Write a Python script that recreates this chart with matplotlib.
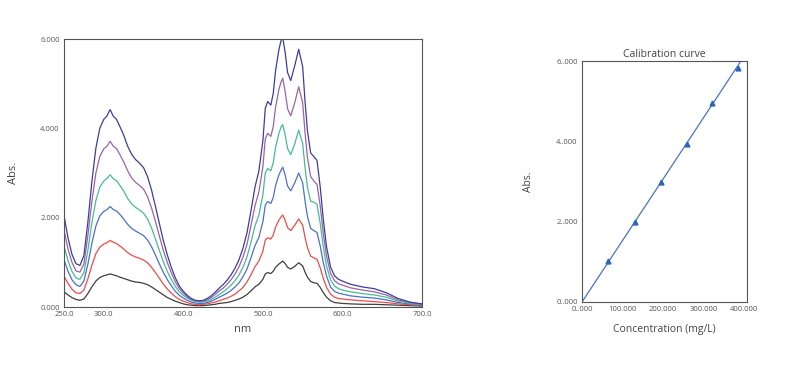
import matplotlib
matplotlib.use("Agg")
import matplotlib.pyplot as plt

plt.rcParams['font.family'] = ['Open Sans', 'DejaVu Sans']

# ---------------- data ----------------
wavelength = [250, 255, 260, 265, 270, 275, 280, 285, 290, 295, 300, 304, 308, 312, 316, 320,
              325, 330, 335, 340, 345, 350, 355, 360, 365, 370, 375, 380, 385, 390, 395, 400,
              405, 410, 415, 420, 425, 430, 435, 440, 445, 450, 455, 460, 465, 470, 475, 480,
              485, 490, 495, 500, 503, 506, 510, 513, 516, 520, 523, 525, 528, 531, 535, 540,
              545, 550, 553, 556, 560, 565, 568, 572, 576, 580, 585, 590, 595, 600, 610, 625,
              640, 655, 670, 685, 700]

abs_black = [0.34, 0.27, 0.21, 0.17, 0.15, 0.18, 0.30, 0.45, 0.58, 0.66, 0.70, 0.72, 0.74, 0.72, 0.70, 0.67,
             0.64, 0.61, 0.58, 0.56, 0.55, 0.53, 0.50, 0.45, 0.39, 0.33, 0.27, 0.21, 0.17, 0.13, 0.10, 0.07,
             0.05, 0.04, 0.03, 0.03, 0.03, 0.04, 0.05, 0.06, 0.08, 0.09, 0.10, 0.12, 0.15, 0.18, 0.22, 0.28,
             0.36, 0.45, 0.51, 0.62, 0.74, 0.77, 0.75, 0.80, 0.89, 0.96, 1.00, 1.03, 0.97, 0.89, 0.85, 0.91,
             0.99, 0.92, 0.78, 0.67, 0.57, 0.54, 0.53, 0.44, 0.32, 0.22, 0.14, 0.10, 0.09, 0.08, 0.07, 0.06,
             0.06, 0.05, 0.04, 0.03, 0.02]
abs_red = [0.69, 0.53, 0.40, 0.32, 0.30, 0.38, 0.63, 0.93, 1.19, 1.34, 1.41, 1.44, 1.49, 1.45, 1.42, 1.37,
           1.30, 1.22, 1.16, 1.12, 1.09, 1.05, 0.99, 0.89, 0.77, 0.64, 0.51, 0.40, 0.31, 0.23, 0.17, 0.13,
           0.10, 0.07, 0.06, 0.05, 0.06, 0.07, 0.09, 0.11, 0.14, 0.17, 0.20, 0.24, 0.29, 0.36, 0.44, 0.56,
           0.72, 0.90, 1.03, 1.25, 1.50, 1.55, 1.52, 1.61, 1.79, 1.94, 2.02, 2.06, 1.94, 1.78, 1.71, 1.83,
           1.97, 1.83, 1.56, 1.33, 1.14, 1.09, 1.07, 0.88, 0.64, 0.44, 0.29, 0.22, 0.19, 0.18, 0.16, 0.14,
           0.12, 0.10, 0.07, 0.05, 0.03]
abs_blue = [1.06, 0.80, 0.61, 0.50, 0.46, 0.58, 0.96, 1.42, 1.81, 2.04, 2.14, 2.18, 2.25, 2.18, 2.15, 2.08,
            1.97, 1.85, 1.76, 1.70, 1.65, 1.60, 1.50, 1.35, 1.16, 0.96, 0.77, 0.61, 0.47, 0.35, 0.26, 0.20,
            0.15, 0.11, 0.09, 0.08, 0.08, 0.10, 0.13, 0.17, 0.22, 0.26, 0.31, 0.37, 0.45, 0.54, 0.68, 0.85,
            1.10, 1.37, 1.56, 1.91, 2.28, 2.36, 2.32, 2.45, 2.72, 2.95, 3.07, 3.13, 2.95, 2.71, 2.60, 2.78,
            3.00, 2.78, 2.37, 2.03, 1.76, 1.70, 1.67, 1.37, 0.99, 0.69, 0.45, 0.35, 0.31, 0.29, 0.25, 0.22,
            0.20, 0.16, 0.10, 0.07, 0.04]
abs_green = [1.36, 1.04, 0.80, 0.65, 0.62, 0.77, 1.27, 1.88, 2.38, 2.68, 2.82, 2.88, 2.96, 2.87, 2.83, 2.73,
             2.60, 2.43, 2.31, 2.23, 2.17, 2.10, 1.97, 1.77, 1.52, 1.26, 1.01, 0.79, 0.61, 0.46, 0.34, 0.26,
             0.20, 0.15, 0.12, 0.11, 0.11, 0.13, 0.17, 0.22, 0.28, 0.34, 0.41, 0.49, 0.59, 0.72, 0.89, 1.12,
             1.45, 1.81, 2.06, 2.51, 3.00, 3.10, 3.05, 3.23, 3.58, 3.88, 4.04, 4.08, 3.85, 3.55, 3.41, 3.65,
             3.96, 3.66, 3.12, 2.68, 2.37, 2.34, 2.30, 1.88, 1.35, 0.92, 0.61, 0.47, 0.41, 0.38, 0.34, 0.30,
             0.27, 0.22, 0.13, 0.08, 0.05]
abs_purple = [1.72, 1.30, 1.00, 0.81, 0.78, 0.96, 1.60, 2.36, 2.99, 3.37, 3.54, 3.60, 3.71, 3.60, 3.55, 3.42,
              3.25, 3.05, 2.89, 2.79, 2.72, 2.64, 2.47, 2.22, 1.91, 1.58, 1.26, 0.99, 0.76, 0.56, 0.41, 0.31,
              0.23, 0.17, 0.14, 0.13, 0.13, 0.16, 0.21, 0.28, 0.36, 0.42, 0.51, 0.61, 0.74, 0.90, 1.12, 1.40,
              1.82, 2.26, 2.58, 3.14, 3.76, 3.89, 3.82, 4.04, 4.48, 4.86, 5.05, 5.12, 4.82, 4.44, 4.28, 4.57,
              4.93, 4.57, 3.90, 3.35, 2.92, 2.80, 2.75, 2.27, 1.64, 1.14, 0.76, 0.59, 0.52, 0.49, 0.43, 0.38,
              0.34, 0.27, 0.16, 0.10, 0.06]
abs_indigo = [2.05, 1.55, 1.18, 0.97, 0.93, 1.15, 1.90, 2.80, 3.55, 4.00, 4.20, 4.28, 4.42, 4.27, 4.20, 4.05,
              3.85, 3.60, 3.42, 3.30, 3.22, 3.12, 2.92, 2.62, 2.25, 1.86, 1.48, 1.16, 0.88, 0.65, 0.47, 0.35,
              0.26, 0.19, 0.15, 0.14, 0.15, 0.19, 0.25, 0.33, 0.42, 0.50, 0.60, 0.72, 0.87, 1.06, 1.32, 1.66,
              2.15, 2.68, 3.05, 3.72, 4.45, 4.60, 4.52, 4.78, 5.30, 5.75, 5.98, 6.02, 5.70, 5.25, 5.07, 5.40,
              5.77, 5.38, 4.60, 3.95, 3.45, 3.35, 3.28, 2.70, 1.95, 1.35, 0.90, 0.70, 0.62, 0.58, 0.51, 0.45,
              0.41, 0.32, 0.19, 0.11, 0.07]

series_colors = ['#3f3f3f', '#ef4a4a', '#4a70cc', '#45bd92', '#9c62aa', '#3d3d9e']

spec_xticks = [250, 300, 400, 500, 600, 700]
spec_xticklabels = ['250.0', '300.0', '400.0', '500.0', '600.0', '700.0']
spec_yticks = [0, 2, 4, 6]
spec_yticklabels = ['0.000', '2.000', '4.000', '6.000']

conc = [65, 130, 195, 259, 322, 385]
cal_abs = [1.02, 2.00, 3.00, 3.94, 4.95, 5.83]
fit_x = [0, 391]
fit_y = [0, 5.97]
cal_xticks = [0, 100, 200, 300, 400]
cal_xticklabels = ['0..000', '100.000', '200.000', '300.000', '400.000']
cal_yticks = [0, 2, 4, 6]
cal_yticklabels = ['0..000', '2..000', '4..000', '6..000']

# ---------------- figure ----------------
W, H = 794, 367
fig = plt.figure(figsize=(W / 100, H / 100), dpi=100)

def rect(x0, y0, x1, y1):
    return [x0 / W, 1 - y1 / H, (x1 - x0) / W, (y1 - y0) / H]

tick_color = '#555555'
label_color = '#444444'

ax1 = fig.add_axes(rect(64, 39, 422, 307))
for ys, c in zip([abs_black, abs_red, abs_blue, abs_green, abs_purple, abs_indigo], series_colors):
    ax1.plot(wavelength, ys, color=c, lw=0.9)
ax1.set_xlim(250, 700)
ax1.set_ylim(0, 6)
ax1.set_xticks(spec_xticks)
ax1.set_xticklabels(spec_xticklabels)
ax1.set_yticks(spec_yticks)
ax1.set_yticklabels(spec_yticklabels)
ax1.tick_params(length=0, labelsize=5.5, colors=tick_color, pad=3)
ax1.set_xlabel('nm', fontsize=8, color=label_color)
ax1.set_ylabel('Abs.', fontsize=8, color=label_color)
ax1.xaxis.set_label_coords(0.5, -0.062)
ax1.yaxis.set_label_coords(-0.125, 0.5)
for s in ax1.spines.values():
    s.set_color('#555555')
    s.set_linewidth(0.8)

ax2 = fig.add_axes(rect(582, 61, 747, 302))
ax2.plot(fit_x, fit_y, color='#4a72c8', lw=0.9)
ax2.plot(conc, cal_abs, linestyle='none', marker='^', color='#2a66bb', markersize=3.5)
ax2.set_xlim(0, 408)
ax2.set_ylim(0, 6)
ax2.set_xticks(cal_xticks)
ax2.set_xticklabels(cal_xticklabels)
ax2.set_yticks(cal_yticks)
ax2.set_yticklabels(cal_yticklabels)
ax2.tick_params(length=0, labelsize=5.5, colors=tick_color, pad=3)
ax2.set_xlabel('Concentration (mg/L)', fontsize=7.5, color=label_color)
ax2.set_ylabel('Abs.', fontsize=7.5, color=label_color)
ax2.xaxis.set_label_coords(0.5, -0.092)
ax2.yaxis.set_label_coords(-0.29, 0.5)
ax2.set_title('Calibration curve', fontsize=7.5, color=label_color, pad=3)
for s in ax2.spines.values():
    s.set_color('#555555')
    s.set_linewidth(0.8)

fig.savefig('out.png', dpi=100)
